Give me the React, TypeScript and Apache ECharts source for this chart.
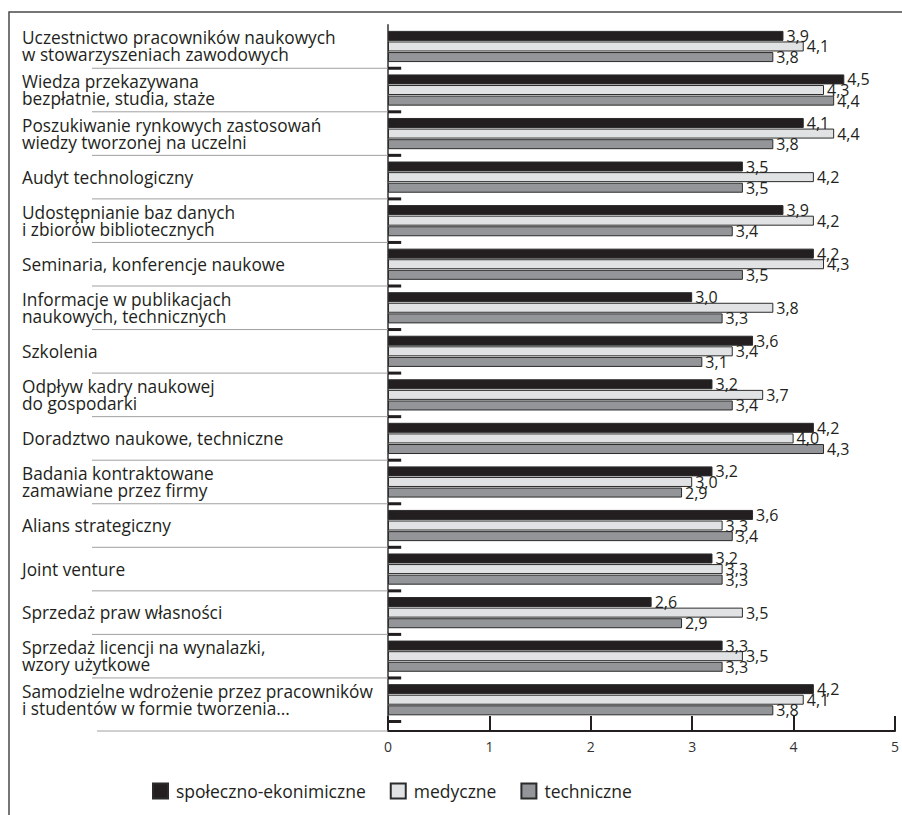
import React, { useEffect, useRef } from "react";
import * as echarts from "echarts";

// Forms of knowledge transfer (categories, top to bottom)
const categories: string[] = [
  "Uczestnictwo pracowników naukowych\nw stowarzyszeniach zawodowych",
  "Wiedza przekazywana\nbezpłatnie, studia, staże",
  "Poszukiwanie rynkowych zastosowań\nwiedzy tworzonej na uczelni",
  "Audyt technologiczny",
  "Udostępnianie baz danych\ni zbiorów bibliotecznych",
  "Seminaria, konferencje naukowe",
  "Informacje w publikacjach\nnaukowych, technicznych",
  "Szkolenia",
  "Odpływ kadry naukowej\ndo gospodarki",
  "Doradztwo naukowe, techniczne",
  "Badania kontraktowane\nzamawiane przez firmy",
  "Alians strategiczny",
  "Joint venture",
  "Sprzedaż praw własności",
  "Sprzedaż licencji na wynalazki,\nwzory użytkowe",
  "Samodzielne wdrożenie przez pracowników\ni studentów w formie tworzenia...",
];

const seriesNames: string[] = ["społeczno-ekonimiczne", "medyczne", "techniczne"];

const spoleczneValues: number[] = [3.9, 4.5, 4.1, 3.5, 3.9, 4.2, 3.0, 3.6, 3.2, 4.2, 3.2, 3.6, 3.2, 2.6, 3.3, 4.2];
const medyczneValues: number[] = [4.1, 4.3, 4.4, 4.2, 4.2, 4.3, 3.8, 3.4, 3.7, 4.0, 3.0, 3.3, 3.3, 3.5, 3.5, 4.1];
const techniczneValues: number[] = [3.8, 4.4, 3.8, 3.5, 3.4, 3.5, 3.3, 3.1, 3.4, 4.3, 2.9, 3.4, 3.3, 2.9, 3.3, 3.8];

// short empty-category stubs at the foot of each group
const stubValues: number[] = [0.13, 0.13, 0.13, 0.13, 0.13, 0.13, 0.13, 0.13, 0.13, 0.13, 0.13, 0.13, 0.13, 0.13, 0.13, 0.13];

const xTicks: number[] = [0, 1, 2, 3, 4, 5];

const FONT = "'Open Sans', 'Noto Sans', sans-serif";
const INK = "#231f20";
const AXIS_OFFSET = 9.5;

const fmt = (v: number) => v.toFixed(1).replace(".", ",");

export default function App() {
  const ref = useRef<HTMLDivElement>(null);

  useEffect(() => {
    if (!ref.current) return;
    const chart = echarts.init(ref.current, null, { renderer: "svg" });

    const fills = [INK, "#e1e2e3", "#939598"];
    const valueSets = [spoleczneValues, medyczneValues, techniczneValues];
    const last = categories.length - 1;

    const barSeries = valueSets.map((vals, i) => ({
      name: seriesNames[i],
      type: "bar",
      data: vals,
      barWidth: 10,
      barGap: "6%",
      itemStyle: { color: fills[i], borderColor: "#2b2b2b", borderWidth: 1 },
      label: {
        show: true,
        position: "right",
        distance: 3,
        formatter: (p: any) => fmt(p.value),
        fontFamily: FONT,
        fontSize: 16,
        color: INK,
      },
    }));

    chart.setOption({
      animation: false,
      backgroundColor: "#ffffff",
      grid: { left: 388, right: 5, top: 24.7, bottom: 93.5, containLabel: false },
      legend: {
        data: seriesNames,
        left: 147,
        top: 777,
        icon: "rect",
        itemWidth: 15,
        itemHeight: 15,
        itemGap: 24,
        textStyle: { fontFamily: FONT, fontSize: 17.5, color: INK, padding: [0, 0, 0, 3] },
      },
      xAxis: {
        type: "value",
        min: xTicks[0],
        max: xTicks[xTicks.length - 1],
        interval: 1,
        offset: AXIS_OFFSET,
        axisLine: { show: true, lineStyle: { color: INK, width: 2 } },
        axisTick: { show: true, inside: true, length: 15, lineStyle: { color: INK, width: 2 } },
        splitLine: { show: false },
        axisLabel: { fontFamily: FONT, fontSize: 14, color: "#333", margin: 8 },
      },
      yAxis: {
        type: "category",
        inverse: true,
        data: categories,
        axisLine: { show: true, lineStyle: { color: "#333", width: 1.5 } },
        axisTick: { show: false },
        axisLabel: {
          align: "left",
          margin: 366,
          fontFamily: FONT,
          fontSize: 17.3,
          lineHeight: 17,
          color: INK,
        },
      },
      graphic: [
        {
          type: "polyline",
          shape: { points: [[9, 830], [9, 12], [910, 12]] },
          style: { stroke: "#4a4a4a", lineWidth: 1.5, fill: null },
          silent: true,
        },
      ],
      series: [
        ...barSeries,
        {
          name: "stub",
          type: "custom",
          data: stubValues.map((v, i) => [v, i]),
          encode: { x: 0, y: 1 },
          clip: false,
          z: 1,
          renderItem: (params: any, api: any) => {
            const idx = api.value(1);
            const c = api.coord([0, idx]);
            const e = api.coord([api.value(0), idx]);
            const band = Math.abs(api.size([0, 1])[1]);
            const yb = c[1] + band / 2;
            const ySep = idx === last ? yb + AXIS_OFFSET : yb;
            return {
              type: "group",
              children: [
                {
                  type: "line",
                  shape: { x1: idx === last ? 97 : 92, y1: ySep, x2: c[0], y2: ySep },
                  style: { stroke: "#a0a0a0", lineWidth: 1 },
                },
                {
                  type: "rect",
                  shape: { x: c[0], y: yb - 1.5, width: e[0] - c[0], height: 3 },
                  style: { fill: INK },
                },
              ],
            };
          },
        },
      ],
    });

    return () => chart.dispose();
  }, []);

  return (
    <div
      ref={ref}
      style={{ position: "absolute", left: 0, top: 0, width: 902, height: 815 }}
    />
  );
}
